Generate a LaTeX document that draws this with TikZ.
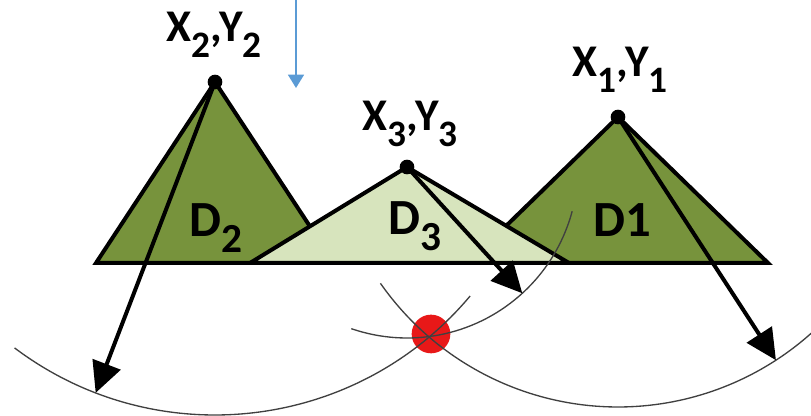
\documentclass[tikz,border=0pt]{standalone}
\usepackage{fontspec}
\setmainfont{Carlito}
\usetikzlibrary{arrows.meta}
\definecolor{olive}{HTML}{77933C}
\definecolor{palegreen}{HTML}{D7E4BD}
\definecolor{hitred}{HTML}{E81818}
\definecolor{guideblue}{HTML}{5B9BD5}
\newcommand{\xysub}[1]{\raisebox{-12pt}{\fontsize{28}{30}\selectfont #1}}
\newcommand{\dsub}[1]{\raisebox{-12pt}{\fontsize{31}{33}\selectfont #1}}
\tikzset{
  tower/.style={draw=black, line width=3pt, line join=miter},
  apex/.style={circle, fill=black, inner sep=0pt, minimum size=11pt},
  rangearc/.style={draw=black!75, line width=1pt},
  ray/.style={line width=3pt, -{Triangle[length=23pt,width=22pt]}},
  xylabel/.style={anchor=base, inner sep=0pt, font=\bfseries\fontsize{34}{36}\selectfont},
  dlabel/.style={anchor=base, inner sep=0pt, font=\bfseries\fontsize{38}{40}\selectfont},
}
\begin{document}
\begin{tikzpicture}[x=0.75pt, y=0.75pt]
  \useasboundingbox (0,0) rectangle (811,416);
  \clip (0,0) rectangle (811,416);
  % Towers
  \fill[olive, tower] (96,153) -- (215,334) -- (334,153) -- cycle;
  \fill[olive, tower] (468,153) -- (618,299) -- (768,153) -- cycle;
  \fill[palegreen, tower] (250,153) -- (407,249) -- (569,153) -- cycle;
  \node[dlabel] (d2) at (216,179) {D\dsub{2}};
  \node[dlabel] (d3) at (415,181) {D\dsub{3}};
  \node[dlabel] (d1) at (622,179) {D1};
  % Position fix
  \node[circle, fill=hitred, inner sep=0pt, minimum size=29pt] (fix) at (431,82) {};
  % Apexes
  \node[apex] (p2) at (215,334) {};
  \node[apex] (p3) at (407,249) {};
  \node[apex] (p1) at (618,299) {};
  \node[xylabel] (xy2) at (214,374) {X\xysub{2},Y\xysub{2}};
  \node[xylabel] (xy3) at (410,285) {X\xysub{3},Y\xysub{3}};
  \node[xylabel] (xy1) at (620,339) {X\xysub{1},Y\xysub{1}};
  % Range circles
  \draw[rangearc] (p2.center) ++(233:333) arc[start angle=233, end angle=320, radius=333];
  \draw[rangearc] (p1.center) ++(215:290) arc[start angle=215, end angle=312, radius=290];
  \draw[rangearc] (p3.center) ++(251:171) arc[start angle=251, end angle=345, radius=171];
  % Range arrows
  \path (p2.center) ++(249:333) coordinate (t2);
  \path (p3.center) ++(312.4:171) coordinate (t3);
  \path (p1.center) ++(303:290) coordinate (t1);
  \draw[ray] (p2.center) -- (t2);
  \draw[ray] (p3.center) -- (t3);
  \draw[ray] (p1.center) -- (t1);
  % Blue marker
  \coordinate (guidetop) at (296,416);
  \coordinate (guidetip) at (296,328);
  \draw[guideblue, line width=1.1pt, -{Triangle[length=10pt,width=12pt]}] (guidetop) -- (guidetip);
\end{tikzpicture}
\end{document}
